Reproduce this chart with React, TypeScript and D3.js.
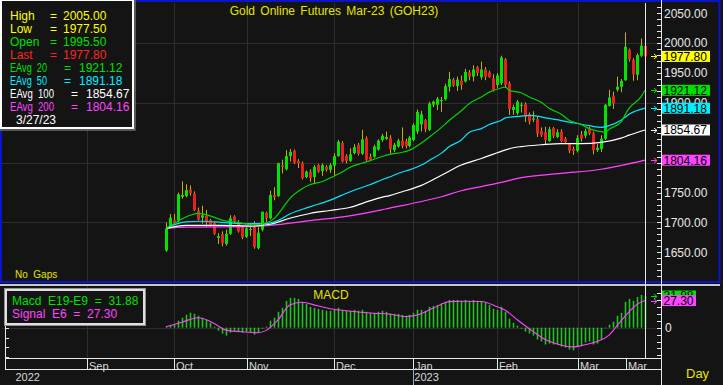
import * as d3 from 'd3';

const W = 723;
const H = 385;

// daily OHLC, Gold futures Mar-23
const opens = [
  1653, 1692, 1704, 1703, 1743, 1744, 1755, 1748, 1720, 1708, 1711, 1704, 1699, 1674, 1680, 1664, 1681, 1710, 1701, 1692,
  1676, 1688, 1692, 1657, 1688, 1716, 1707, 1746, 1744, 1796, 1789, 1811, 1820, 1803, 1799, 1776, 1785, 1776, 1796, 1786,
  1793, 1788, 1795, 1811, 1833, 1811, 1803, 1816, 1830, 1815, 1841, 1810, 1810, 1822, 1838, 1840, 1842, 1821, 1827, 1837,
  1836, 1828, 1838, 1852, 1864, 1871, 1855, 1897, 1897, 1903, 1906, 1927, 1939, 1928, 1937, 1936, 1951, 1944, 1960, 1943,
  1956, 1951, 1941, 1930, 1933, 1973, 1933, 1888, 1883, 1895, 1898, 1881, 1872, 1873, 1853, 1851, 1836, 1858, 1843, 1852,
  1840, 1831, 1823, 1820, 1847, 1845, 1857, 1849, 1821, 1823, 1840, 1895, 1912, 1922, 1927, 1938, 1989, 1972, 1947, 1979,
  1995.5,
];
const highs = [
  1700, 1714, 1714, 1750, 1769, 1764, 1762, 1752, 1725, 1728, 1721, 1706, 1701, 1682, 1685, 1688, 1712, 1712, 1704, 1694,
  1692, 1694, 1702, 1692, 1718, 1718, 1753, 1759, 1800, 1805, 1821, 1823, 1822, 1806, 1802, 1787, 1789, 1796, 1798, 1799,
  1796, 1799, 1816, 1838, 1836, 1814, 1824, 1831, 1833, 1855, 1844, 1815, 1830, 1839, 1848, 1852, 1846, 1833, 1840, 1859,
  1840, 1845, 1866, 1889, 1887, 1873, 1902, 1904, 1910, 1910, 1932, 1952, 1942, 1944, 1946, 1957, 1955, 1963, 1962, 1969,
  1960, 1954, 1948, 1950, 1979, 1975, 1936, 1897, 1905, 1901, 1901, 1884, 1886, 1877, 1859, 1860, 1860, 1860, 1856, 1856,
  1843, 1832, 1827, 1846, 1853, 1857, 1860, 1852, 1831, 1846, 1898, 1922, 1919, 1944, 1940, 2018, 1991, 1975, 1983, 2008,
  2005,
];
const lows = [
  1651, 1690, 1696, 1700, 1740, 1742, 1745, 1719, 1703, 1698, 1692, 1692, 1679, 1664, 1660, 1661, 1679, 1698, 1683, 1672,
  1674, 1677, 1656, 1655, 1685, 1700, 1705, 1737, 1743, 1782, 1787, 1802, 1798, 1791, 1772, 1774, 1768, 1766, 1783, 1778,
  1785, 1783, 1778, 1810, 1800, 1799, 1801, 1814, 1812, 1813, 1803, 1803, 1808, 1820, 1835, 1838, 1815, 1818, 1825, 1824,
  1824, 1826, 1836, 1848, 1852, 1851, 1853, 1893, 1888, 1885, 1904, 1919, 1927, 1920, 1922, 1934, 1938, 1936, 1945, 1939,
  1938, 1942, 1919, 1925, 1930, 1925, 1880, 1880, 1880, 1884, 1868, 1864, 1868, 1843, 1843, 1831, 1835, 1841, 1841, 1834,
  1831, 1816, 1813, 1817, 1835, 1841, 1846, 1814, 1818, 1818, 1838, 1894, 1890, 1919, 1918, 1937, 1969, 1937, 1938, 1977,
  1977.5,
];
const closes = [
  1690, 1708, 1700, 1747, 1746, 1754, 1749, 1721, 1705, 1712, 1700, 1695, 1681, 1677, 1665, 1681, 1707, 1702, 1685, 1675,
  1690, 1689, 1659, 1683, 1718, 1707, 1746, 1742, 1799, 1793, 1811, 1818, 1800, 1799, 1774, 1785, 1774, 1793, 1785, 1796,
  1788, 1796, 1811, 1835, 1802, 1803, 1814, 1826, 1815, 1839, 1805, 1805, 1827, 1837, 1845, 1843, 1823, 1830, 1837, 1828,
  1828, 1842, 1863, 1885, 1881, 1856, 1899, 1902, 1907, 1905, 1928, 1940, 1929, 1939, 1930, 1952, 1944, 1956, 1950, 1956,
  1944, 1943, 1922, 1946, 1976, 1930, 1890, 1893, 1902, 1897, 1877, 1869, 1874, 1849, 1846, 1838, 1856, 1845, 1851, 1836,
  1834, 1820, 1820, 1841, 1840, 1853, 1849, 1821, 1825, 1840, 1897, 1909, 1899, 1927, 1937, 1994, 1973, 1948, 1980, 1996,
  1977.8,
];

// exponential averages, [bar index, value]
const ema20: [number, number][] = [
  [0, 1690], [3, 1702], [6, 1712], [8, 1715], [11, 1711], [14, 1704], [18, 1700], [22, 1696], [25, 1699], [27, 1706],
  [29, 1722], [31, 1740], [34, 1756], [36, 1763], [39, 1768], [41, 1774], [44, 1784], [46, 1792], [49, 1799], [51, 1803],
  [54, 1810], [56, 1814], [59, 1817], [61, 1821], [64, 1833], [66, 1843], [69, 1859], [71, 1871], [74, 1887], [76, 1899],
  [79, 1910], [81, 1918], [84, 1925], [85, 1927], [86, 1921], [89, 1917], [91, 1910], [94, 1901], [96, 1891], [99, 1881],
  [101, 1871], [104, 1864], [106, 1857], [109, 1852], [110, 1851], [111, 1856], [114, 1868], [115, 1880], [116, 1891],
  [119, 1910], [120, 1921.12],
];
const ema50: [number, number][] = [
  [0, 1691], [5, 1701], [9, 1702], [14, 1700], [19, 1698], [25, 1698], [28, 1703], [31, 1714], [36, 1726], [41, 1737],
  [46, 1751], [51, 1763], [54, 1771], [56, 1776], [59, 1784], [61, 1788], [64, 1796], [66, 1804], [69, 1816], [71, 1827],
  [74, 1838], [76, 1851], [79, 1857], [81, 1864], [84, 1871], [85, 1875], [89, 1878], [91, 1879], [96, 1874], [101, 1868],
  [106, 1862], [109, 1859], [111, 1862], [114, 1871], [116, 1881], [120, 1891.18],
];
const ema100: [number, number][] = [
  [0, 1690], [5, 1695], [14, 1695], [22, 1694], [26, 1697], [31, 1707], [36, 1715], [41, 1720], [46, 1725], [51, 1736],
  [54, 1742], [56, 1745], [59, 1751], [64, 1762], [69, 1779], [74, 1796], [79, 1807], [84, 1819], [87, 1825], [89, 1827],
  [94, 1830], [99, 1832], [104, 1832], [109, 1834], [114, 1841], [116, 1846], [120, 1854.67],
];
const ema200: [number, number][] = [
  [0, 1690], [5, 1692], [22, 1693], [26, 1695], [36, 1703], [46, 1711], [54, 1721], [56, 1724], [59, 1728], [64, 1735],
  [69, 1743], [74, 1753], [79, 1760], [84, 1767], [89, 1775], [99, 1782], [109, 1789], [120, 1804.16],
];

// MACD E19-E9 histogram, one per bar
const macd = [
  1, 2, 3, 7, 10, 13, 15, 14, 12, 10, 8, 5, 1, -3, -6, -8, -5, -3, -4, -5,
  -4, -5, -7, -5, -1, 1, 7, 10, 16, 20, 27, 30, 30, 29, 26, 24, 21, 20, 19, 18,
  17, 17, 18, 20, 18, 17, 17, 18, 17, 18, 16, 15, 15, 16, 17, 16, 14, 14, 14, 13,
  12, 13, 15, 18, 18, 17, 21, 22, 23, 23, 26, 28, 28, 28, 27, 28, 27, 28, 27, 27,
  25, 23, 19, 18, 21, 16, 9, 5, 2, -1, -4, -6, -8, -12, -14, -17, -16, -17, -17, -19,
  -20, -22, -23, -19, -18, -15, -14, -17, -16, -12, 0, 3, 6, 12, 15, 26, 29, 27, 31, 33,
  31.88,
];
// signal E6, [bar index, value]
const signal: [number, number][] = [
  [0, 1], [4, 5.5], [8, 10], [9, 9.5], [13, 2], [15, -2.5], [20, -4.4], [23, -5.1], [25, -3], [28, 7.5],
  [31, 22.8], [34, 25.6], [38, 22], [42, 18.5], [47, 16.3], [52, 14.6], [56, 13.6], [60, 11.3], [63, 12.8], [67, 19.8],
  [71, 26.2], [74, 26.6], [79, 26.3], [83, 21], [85, 17.5], [88, 8], [92, -4], [95, -12], [98, -16.5], [102, -19.4],
  [105, -17.2], [108, -14], [111, -7.5], [113, 2], [116, 16], [118, 23.5], [120, 27.3],
];

// time axis, in bar index units
const monthNames = ['Sep', 'Oct', 'Nov', 'Dec', 'Jan', 'Feb', 'Mar', 'Mar'];
const monthIdx = [-19.8, 2.1, 20.2, 42.2, 62, 82.9, 103.1, 115.2];
const yearNames = ['2022', '2023'];
const yearIdx = [-37.7, 62.2];

const priceTicks = [1650, 1700, 1750, 1800, 1850, 1900, 1950, 2000, 2050];
const gridPrices = [1700, 1800, 1900, 2000];

const COL = {
  bg: '#141414',
  grid: '#2e2e2e',
  up: '#00e400',
  down: '#e82020',
  wick: '#c4ae00',
  e20: '#00d400',
  e50: '#00e8ff',
  e100: '#ffffff',
  e200: '#ff44ff',
  yellow: '#e4e400',
  blue: '#0a14c8',
  axis: '#e8e8e8',
  hist: '#20c420',
};

const FONT = '"Liberation Sans", Arial, sans-serif';

function Arrow({ x, y, color }: { x: number; y: number; color: string }) {
  return (
    <path
      d={`M${x},${y + 0.5}H${x + 6}M${x + 3},${y - 2}L${x + 6},${y + 0.5}L${x + 3},${y + 3}`}
      stroke={color}
      fill="none"
      strokeWidth={1}
    />
  );
}

export default function App() {
  const last = closes.length - 1;
  const x = d3.scaleLinear().domain([0, last]).range([166, 645]);
  const y = d3.scaleLinear().domain([1602, 2067.2]).range([281, 3]);
  const ym = d3.scaleLinear().domain([-30.6, 42]).range([358, 286]);

  const line = d3
    .line<[number, number]>()
    .x((d) => x(d[0]))
    .y((d) => y(d[1]))
    .curve(d3.curveMonotoneX);
  const sigLine = d3
    .line<[number, number]>()
    .x((d) => x(d[0]))
    .y((d) => ym(d[1]))
    .curve(d3.curveMonotoneX);

  const px = (i: number) => Math.round(x(i)) + 0.5;
  const monthX = monthIdx.map((m) => Math.round(x(m)) + 0.5);

  const minorTicks = d3.range(1610, 2070, 10);
  const macdTicks = d3.range(-28, 42, 7);

  const tags = [
    { v: closes[last], color: '#ffff00' },
    { v: ema20[ema20.length - 1][1], color: '#00e000' },
    { v: ema50[ema50.length - 1][1], color: '#00f0ff' },
    { v: ema100[ema100.length - 1][1], color: '#ffffff' },
    { v: ema200[ema200.length - 1][1], color: '#ff44ff' },
  ];
  // price labels that sit right under a value tag are hidden by it
  const shownTicks = priceTicks.filter((t) => tags.every((g) => Math.abs(y(t) - y(g.v)) >= 3));

  const ohlcRows = [
    { label: 'High', v: highs[last], color: '#ffff00' },
    { label: 'Low', v: lows[last], color: '#ffff00' },
    { label: 'Open', v: opens[last], color: '#00e000' },
    { label: 'Last', v: closes[last], color: '#ff2424' },
  ];
  const emaRows = [
    { n: '20', v: ema20[ema20.length - 1][1], color: '#00e000' },
    { n: '50', v: ema50[ema50.length - 1][1], color: '#00f0ff' },
    { n: '100', v: ema100[ema100.length - 1][1], color: '#ffffff' },
    { n: '200', v: ema200[ema200.length - 1][1], color: '#ff44ff' },
  ];

  const macdLast = macd[macd.length - 1];
  const sigLast = signal[signal.length - 1][1];

  return (
    <div style={{ position: 'absolute', left: 0, top: 0 }}>
      <svg width={W} height={H} style={{ display: 'block', fontFamily: FONT }}>
        <rect width={W} height={H} fill={COL.bg} />

        {/* ---- price panel ---- */}
        {gridPrices.map((p) => (
          <line key={p} x1={2} x2={661} y1={Math.round(y(p)) + 0.5} y2={Math.round(y(p)) + 0.5} stroke={COL.grid} />
        ))}
        {monthX.slice(0, 7).map((mx, i) => (
          <line key={i} x1={mx} x2={mx} y1={3} y2={281} stroke={COL.grid} />
        ))}

        {closes.map((c, i) => {
          const o = opens[i];
          const top = y(Math.max(o, c));
          const bot = y(Math.min(o, c));
          const cx = px(i);
          const isLast = i === last;
          return (
            <g key={i}>
              <line x1={cx} x2={cx} y1={y(highs[i])} y2={y(lows[i])} stroke={COL.wick} />
              {isLast && <line x1={cx} x2={cx} y1={y(highs[i])} y2={top} stroke="#2040ff" />}
              <rect
                x={cx - 1.5}
                y={top}
                width={3}
                height={Math.max(1, bot - top)}
                fill={c >= o ? COL.up : COL.down}
              />
            </g>
          );
        })}

        <path d={line(ema200) ?? ''} fill="none" stroke={COL.e200} strokeWidth={1.2} />
        <path d={line(ema100) ?? ''} fill="none" stroke={COL.e100} strokeWidth={1.2} />
        <path d={line(ema50) ?? ''} fill="none" stroke={COL.e50} strokeWidth={1.2} />
        <path d={line(ema20) ?? ''} fill="none" stroke={COL.e20} strokeWidth={1.2} />

        <text x={334} y={15} fill={COL.yellow} fontSize={12} textAnchor="middle" wordSpacing={2}>
          Gold Online Futures Mar-23 (GOH23)
        </text>
        <text x={15} y={278} fill={COL.yellow} fontSize={10} style={{ whiteSpace: 'pre' }}>
          No  Gaps
        </text>

        {/* blue selection frame */}
        <rect x={1} y={1} width={718.5} height={281} fill="none" stroke={COL.blue} strokeWidth={2} />

        {/* legend */}
        <rect x={-1} y={-1} width={136} height={131} fill={COL.bg} stroke="#9a9a9a" strokeWidth={1} />
        <rect x={1} y={0} width={132} height={128} fill="none" stroke="#ffffff" strokeWidth={2} />
        {ohlcRows.map((r, i) => (
          <g key={r.label} fill={r.color} fontSize={12}>
            <text x={10} y={19.5 + i * 13}>{r.label}</text>
            <text x={50} y={19.5 + i * 13}>=</text>
            <text x={63} y={19.5 + i * 13}>{r.v.toFixed(2)}</text>
          </g>
        ))}
        {emaRows.map((r, i) => {
          const yy = 19.5 + (i + 4) * 13;
          const wide = r.n.length > 2;
          return (
            <g key={r.n} fill={r.color} fontSize={12}>
              <text x={10} y={yy} textLength={wide ? 44 : 37} lengthAdjust="spacingAndGlyphs" style={{ whiteSpace: 'pre' }}>
                {`EAvg  ${r.n}`}
              </text>
              <text x={wide ? 71 : 64} y={yy}>=</text>
              <text x={wide ? 86 : 79} y={yy}>{r.v.toFixed(2)}</text>
            </g>
          );
        })}
        <text x={16} y={123.5} fill="#ffffff" fontSize={12}>3/27/23</text>

        {/* ---- MACD panel ---- */}
        <line x1={0} x2={720} y1={285} y2={285} stroke="#c8c8c8" strokeWidth={2} />
        <line x1={2} x2={661} y1={Math.round(ym(0)) + 0.5} y2={Math.round(ym(0)) + 0.5} stroke={COL.grid} />
        {monthX.slice(0, 7).map((mx, i) => (
          <line key={i} x1={mx} x2={mx} y1={286} y2={358} stroke={COL.grid} />
        ))}
        {macd.map((v, i) => (
          <rect
            key={i}
            x={px(i) - 0.8}
            y={Math.min(ym(v), ym(0))}
            width={1.6}
            height={Math.max(0.5, Math.abs(ym(v) - ym(0)))}
            fill={COL.hist}
          />
        ))}
        <path d={sigLine(signal) ?? ''} fill="none" stroke={COL.e200} strokeWidth={1.1} />
        <text x={331} y={299} fill={COL.yellow} fontSize={12} textAnchor="middle">MACD</text>

        {/* left scale of macd panel */}
        <line x1={5.5} x2={5.5} y1={300} y2={370} stroke={COL.axis} />
        {d3.range(0, -31, -10).map((t) => (
          <line key={t} x1={5.5} x2={9} y1={Math.round(ym(t)) + 0.5} y2={Math.round(ym(t)) + 0.5} stroke={COL.axis} />
        ))}

        <rect x={4.5} y={288.5} width={141} height={37} fill={COL.bg} stroke="#909090" />
        <rect x={6} y={290} width={138} height={34} fill="none" stroke="#e0e0e0" strokeWidth={2} />
        <text x={12} y={305} fill="#00e000" fontSize={12} style={{ whiteSpace: 'pre' }}>
          {`Macd  E19-E9  =  ${macdLast.toFixed(2)}`}
        </text>
        <text x={12} y={318} fill="#ff44ff" fontSize={12} style={{ whiteSpace: 'pre' }}>
          {`Signal  E6  =  ${sigLast.toFixed(2)}`}
        </text>

        {/* current bar marker */}
        <line x1={px(last)} x2={px(last)} y1={3} y2={358} stroke="#e8e8e8" />

        {/* ---- right price scale ---- */}
        <line x1={661.5} x2={661.5} y1={0} y2={H} stroke={COL.axis} />
        {minorTicks.map((t) => (
          <line key={t} x1={657} x2={661} y1={Math.round(y(t)) + 0.5} y2={Math.round(y(t)) + 0.5} stroke={COL.axis} />
        ))}
        {shownTicks.map((t) => (
          <text key={t} x={664} y={y(t)} dy="0.36em" fill={COL.axis} fontSize={12}>
            {t.toFixed(2)}
          </text>
        ))}
        {tags.map((t) => (
          <g key={t.v}>
            <Arrow x={651} y={Math.round(y(t.v))} color={t.color} />
            <rect x={662} y={y(t.v) - 5.5} width={48} height={11} fill={t.color} />
            <text x={663.5} y={y(t.v)} dy="0.36em" fontSize={12} fill="#000">
              {t.v.toFixed(2)}
            </text>
          </g>
        ))}

        {/* macd scale */}
        {macdTicks.map((t) => (
          <line key={t} x1={657} x2={661} y1={Math.round(ym(t)) + 0.5} y2={Math.round(ym(t)) + 0.5} stroke={COL.axis} />
        ))}
        <text x={665} y={ym(0)} dy="0.36em" fill={COL.axis} fontSize={12}>0</text>
        {[
          { v: macdLast, color: '#00e000' },
          { v: sigLast, color: '#ff44ff' },
        ].map((t) => (
          <g key={t.color}>
            <Arrow x={651} y={Math.round(ym(t.v))} color={t.color} />
            <rect x={662} y={ym(t.v) - 5.5} width={34} height={11} fill={t.color} />
            <text x={663.5} y={ym(t.v)} dy="0.36em" fontSize={12} fill="#000">
              {t.v.toFixed(2)}
            </text>
          </g>
        ))}

        {/* ---- time axis ---- */}
        <line x1={5} x2={661} y1={358.5} y2={358.5} stroke={COL.axis} />
        <line x1={5} x2={661} y1={369.5} y2={369.5} stroke={COL.axis} />
        {monthNames.map((m, i) => (
          <g key={i}>
            <text x={monthX[i] + 1.5} y={370} fill="#d8d8d8" fontSize={11}>{m}</text>
            <line x1={monthX[i]} x2={monthX[i]} y1={358} y2={369.5} stroke={COL.axis} />
          </g>
        ))}
        <line x1={monthX[4]} x2={monthX[4]} y1={369} y2={H} stroke="#a8a8a8" />
        {yearNames.map((yr, i) => (
          <text key={yr} x={x(yearIdx[i])} y={381} fill="#d8d8d8" fontSize={11}>{yr}</text>
        ))}
        <text x={686} y={378} fill={COL.yellow} fontSize={13}>Day</text>
      </svg>
    </div>
  );
}
